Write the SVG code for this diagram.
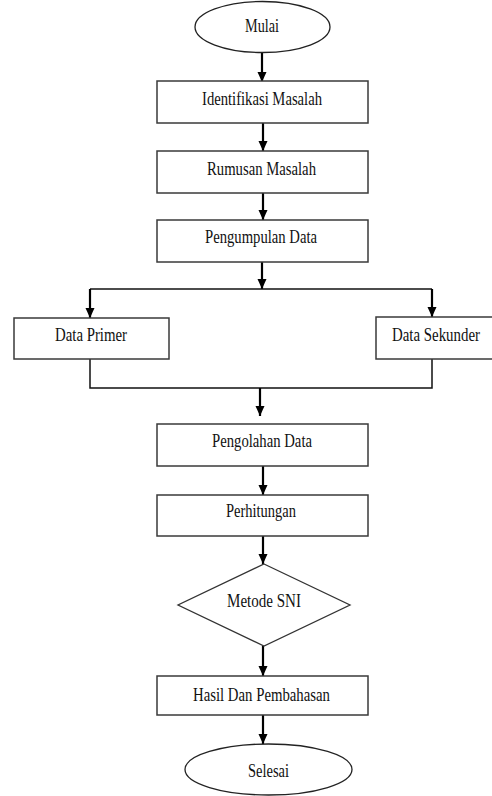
<svg xmlns="http://www.w3.org/2000/svg" width="492" height="796" viewBox="0 0 492 796">
<defs>
<style>
.box{fill:#fff;stroke:#3a3a3a;stroke-width:1.5}
.t{font-family:"Liberation Serif","Times New Roman",serif;font-size:18px;fill:#111;text-anchor:middle}
.c{fill:none;stroke:#000;stroke-width:2.2}
.l{fill:none;stroke:#111;stroke-width:1.5}
</style>
<marker id="ah" markerUnits="userSpaceOnUse" markerWidth="10" markerHeight="10" refX="10" refY="4.5" orient="auto">
<path d="M0,0 L10,4.5 L0,9 z" fill="#000"/>
</marker>
</defs>
<rect width="492" height="796" fill="#fff"/>
<g id="connectors">
<line class="c" x1="262" y1="53" x2="262" y2="82" marker-end="url(#ah)"/>
<line class="c" x1="263" y1="123" x2="263" y2="151" marker-end="url(#ah)"/>
<line class="c" x1="263" y1="193" x2="263" y2="220" marker-end="url(#ah)"/>
<line class="c" x1="262" y1="262" x2="262" y2="289" marker-end="url(#ah)"/>
<line class="l" x1="90" y1="289" x2="432" y2="289"/>
<line class="c" x1="90" y1="289" x2="90" y2="318" marker-end="url(#ah)"/>
<line class="c" x1="432" y1="289" x2="432" y2="317" marker-end="url(#ah)"/>
<polyline class="l" points="90,359 90,388 432,388 432,359"/>
<line class="c" x1="260" y1="388" x2="260" y2="416" marker-end="url(#ah)"/>
<line class="c" x1="263" y1="466" x2="263" y2="495" marker-end="url(#ah)"/>
<line class="c" x1="263" y1="536" x2="263" y2="564" marker-end="url(#ah)"/>
<line class="c" x1="263" y1="646" x2="263" y2="676" marker-end="url(#ah)"/>
<line class="c" x1="263" y1="715" x2="263" y2="744" marker-end="url(#ah)"/>
</g>
<g id="mulai">
<ellipse cx="262.5" cy="27" rx="67.5" ry="25.5" fill="#fff" stroke="#222" stroke-width="1.3"/>
<text class="t" x="262" y="32" textLength="34" lengthAdjust="spacingAndGlyphs">Mulai</text>
</g>
<g id="identifikasi">
<rect class="box" x="157" y="81" width="211" height="42"/>
<text class="t" x="262" y="105" textLength="120" lengthAdjust="spacingAndGlyphs">Identifikasi Masalah</text>
</g>
<g id="rumusan">
<rect class="box" x="157" y="151" width="211" height="42"/>
<text class="t" x="261.5" y="175" textLength="109" lengthAdjust="spacingAndGlyphs">Rumusan Masalah</text>
</g>
<g id="pengumpulan">
<rect class="box" x="157" y="220" width="211" height="42"/>
<text class="t" x="261" y="243" textLength="112" lengthAdjust="spacingAndGlyphs">Pengumpulan Data</text>
</g>
<g id="primer">
<rect class="box" x="14" y="318" width="155" height="41"/>
<text class="t" x="91" y="341" textLength="72" lengthAdjust="spacingAndGlyphs">Data Primer</text>
</g>
<g id="sekunder">
<rect class="box" x="376" y="317" width="122" height="42"/>
<text class="t" x="436" y="341" textLength="88" lengthAdjust="spacingAndGlyphs">Data Sekunder</text>
</g>
<g id="pengolahan">
<rect class="box" x="157" y="424" width="211" height="42"/>
<text class="t" x="262" y="447" textLength="100" lengthAdjust="spacingAndGlyphs">Pengolahan Data</text>
</g>
<g id="perhitungan">
<rect class="box" x="157" y="495" width="211" height="41"/>
<text class="t" x="261" y="517" textLength="70" lengthAdjust="spacingAndGlyphs">Perhitungan</text>
</g>
<g id="metode">
<polygon points="264,564 350,605 264,646 178,605" fill="#fff" stroke="#333" stroke-width="1.3"/>
<text class="t" x="264" y="607" textLength="74" lengthAdjust="spacingAndGlyphs">Metode SNI</text>
</g>
<g id="hasil">
<rect class="box" x="157" y="676" width="211" height="39"/>
<text class="t" x="261.5" y="701" textLength="137" lengthAdjust="spacingAndGlyphs">Hasil Dan Pembahasan</text>
</g>
<g id="selesai">
<ellipse cx="268.5" cy="769.5" rx="83.5" ry="25.5" fill="#fff" stroke="#222" stroke-width="1.3"/>
<text class="t" x="268.5" y="777" textLength="41" lengthAdjust="spacingAndGlyphs">Selesai</text>
</g>
</svg>
